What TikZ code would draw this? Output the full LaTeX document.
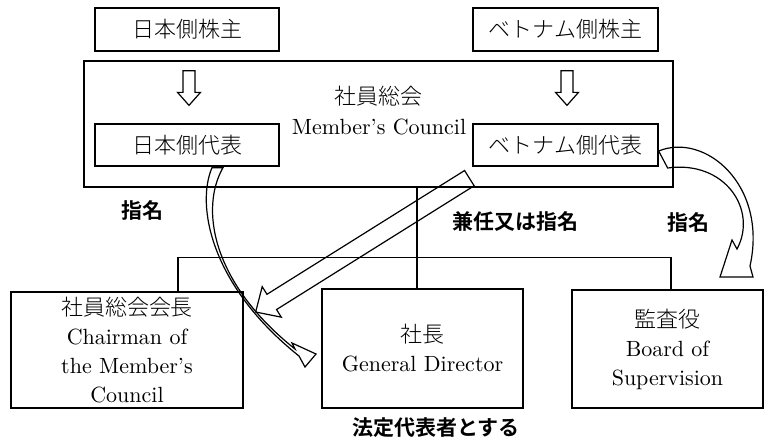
\documentclass[tikz,border=0pt]{standalone}
\usepackage{fontspec}
\setmainfont{lmroman10-regular}[Extension=.otf]
\newfontfamily\jp{Noto Sans CJK JP}[UprightFont=* Light, BoldFont=* Bold]
\usetikzlibrary{calc}
\newcommand\hollowarr[5]{%
  \coordinate (tmpC) at ($(#2)!#5!(#1)$);
  \draw[hollow] ($(#1)!#3!90:(#2)$) -- ($(tmpC)!#3!90:(#2)$) -- ($(tmpC)!#4!90:(#2)$) -- (#2)
    -- ($(tmpC)!#4!-90:(#2)$) -- ($(tmpC)!#3!-90:(#2)$) -- ($(#1)!#3!-90:(#2)$) -- cycle;}
\tikzset{
  box/.style={draw, line width=1.3pt, inner sep=0pt, align=center, font=\fontsize{22}{29}\selectfont},
  lbl/.style={font=\jp\bfseries\fontsize{21}{25}\selectfont, inner sep=0pt},
  txt/.style={font=\fontsize{22}{29}\selectfont, inner sep=0pt},
  hollow/.style={draw, line width=1.2pt, line join=miter},
  conn/.style={draw, line width=1.3pt},
}
\begin{document}
\begin{tikzpicture}[x=1pt,y=-1pt]
\useasboundingbox (0,0) rectangle (764,440);
% council
\node[box, minimum width=589pt, minimum height=126pt] (council) at (378.5,124) {};
\node[txt] (ctitle) at (378.5,96) {\jp 社員総会};
\node[txt] (ceng) at (379,127) {Member’s Council};
% shareholder boxes
\node[box, minimum width=184pt, minimum height=43pt] (jsh) at (187,29.5) {\jp 日本側株主};
\node[box, minimum width=185pt, minimum height=43pt] (vsh) at (565.5,29.5) {\jp ベトナム側株主};
\node[box, minimum width=184pt, minimum height=42pt] (jrep) at (187,145) {\jp 日本側代表};
\node[box, minimum width=185pt, minimum height=42pt] (vrep) at (565.5,145) {\jp ベトナム側代表};
% bottom boxes
\node[box, minimum width=232pt, minimum height=116pt] (chair) at (127,350)
  {{\jp 社員総会会長}\\Chairman of\\the Member’s\\Council};
\node[box, minimum width=201pt, minimum height=119pt] (gd) at (422.5,348.5)
  {{\jp 社長}\\General Director};
\node[box, minimum width=191pt, minimum height=118pt] (board) at (667.5,349)
  {{\jp 監査役}\\Board of\\Supervision};
% labels
\node[lbl] (l1) at (142,210) {指名};
\node[lbl] (l2) at (515,222) {兼任又は指名};
\node[lbl] (l3) at (688,222) {指名};
\node[lbl] (l4) at (436,428) {法定代表者とする};
% connectors
\draw[conn] ($(council.south)+(38.5,0)$) -- ($(gd.north)+(-5.5,0)$);
\draw[conn] ($(chair.north)+(51,0)$) |- ($(board.north)+(3.5,-32)$) -- ($(board.north)+(3.5,0)$);
% down hollow arrows
\coordinate (da1) at ($(jsh.south)+(2,19)$);
\coordinate (db1) at ($(jrep.north)+(2,-18)$);
\coordinate (da2) at ($(vsh.south)+(1.5,19)$);
\coordinate (db2) at ($(vrep.north)+(1.5,-18)$);
\hollowarr{da1}{db1}{6pt}{11.5pt}{13pt}
\hollowarr{da2}{db2}{6pt}{11.5pt}{13pt}
% straight hollow arrow
\coordinate (sa) at ($(vrep.south west)+(-3,11.5)$);
\coordinate (sb) at ($(chair.east)+(12,-38)$);
\hollowarr{sa}{sb}{9pt}{18pt}{19pt}
% left curved hollow arrow
\coordinate (lt1) at ($(jrep.south)+(25,1)$);
\coordinate (lt2) at ($(jrep.south)+(36,1)$);
\draw[hollow] (lt1) .. controls (196,205) and (210,285) .. (299,356) -- (305,367) -- (316,354)
  -- (292,343) -- (295,349) .. controls (211,282) and (200,208) .. (lt2) -- cycle;
% right curved hollow arrow
\coordinate (rt1) at ($(vrep.east)+(0,6)$);
\coordinate (rt2) at ($(vrep.east)+(9,23)$);
\draw[hollow] (rt1) .. controls (705,132) and (768,185) .. (750,266) -- (753,277) -- (720,277)
  -- (732,240) -- (737,249) .. controls (758,210) and (725,160) .. (rt2) -- cycle;
\end{tikzpicture}
\end{document}
